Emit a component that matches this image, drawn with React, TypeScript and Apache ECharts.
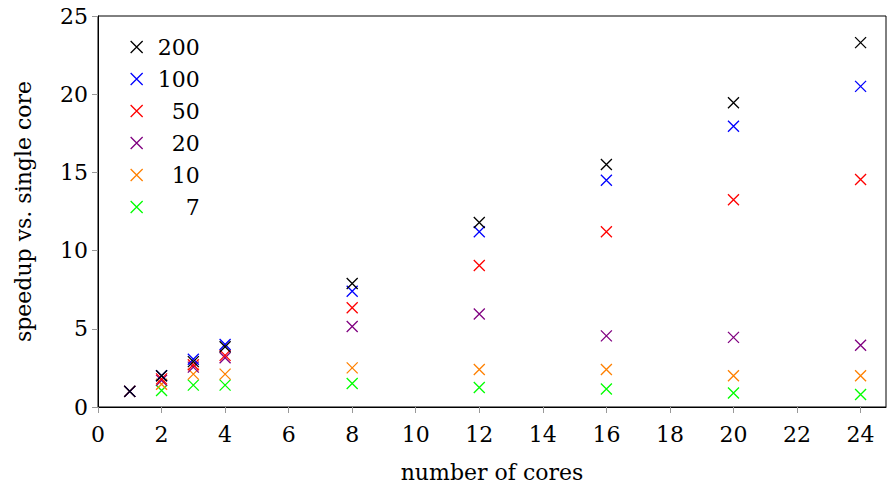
import React, { useEffect, useRef } from "react";
import * as echarts from "echarts";

const cores = [1, 2, 3, 4, 8, 12, 16, 20, 24];
const seriesNames = ["200", "100", "50", "20", "10", "7"];
const s200 = [1.0, 2.0, 2.9, 3.85, 7.9, 11.8, 15.5, 19.45, 23.3];
const s100 = [1.0, 2.0, 3.05, 4.0, 7.4, 11.2, 14.5, 17.95, 20.5];
const s50 = [1.0, 1.8, 2.7, 3.3, 6.35, 9.05, 11.2, 13.25, 14.55];
const s20 = [1.0, 1.7, 2.55, 3.15, 5.15, 5.95, 4.55, 4.45, 3.95];
const s10 = [1.0, 1.45, 2.1, 2.1, 2.5, 2.4, 2.4, 2.0, 2.0];
const s7 = [1.0, 1.05, 1.4, 1.4, 1.5, 1.25, 1.15, 0.9, 0.8];
const xTicks = [0, 2, 4, 6, 8, 10, 12, 14, 16, 18, 20, 22, 24];
const colors = ["#000000", "#0000ff", "#ff0000", "#800080", "#ff8000", "#00ff00"];

const cross = "path://M0,0L10,10M10,0L0,10";
const font = "DejaVu Serif";

export default function App() {
  const ref = useRef<HTMLDivElement>(null);
  useEffect(() => {
    if (!ref.current) return;
    const chart = echarts.init(ref.current, null, { renderer: "svg" });
    const values = [s200, s100, s50, s20, s10, s7];
    const series = seriesNames.map((name, i) => ({
      name,
      type: "scatter",
      symbol: cross,
      symbolSize: 11,
      z: 10 - i,
      itemStyle: { color: "transparent", borderColor: colors[i], borderWidth: 1.3, opacity: 1 },
      data: cores.map((c, j) => [c, values[i][j]]),
    }));
    chart.setOption({
      animation: false,
      textStyle: { fontFamily: font },
      grid: {
        left: 98,
        right: 2,
        top: 16,
        bottom: 81,
        show: true,
        borderColor: "#000",
        borderWidth: 1,
        backgroundColor: "transparent",
      },
      legend: {
        orient: "vertical",
        left: 125,
        top: 31,
        itemGap: 10,
        itemWidth: 12,
        itemHeight: 12,
        data: seriesNames.map((n, i) => ({
          name: n,
          icon: cross,
          itemStyle: { color: "transparent", borderColor: colors[i], borderWidth: 1.3, opacity: 1 },
        })),
        formatter: (n: string) => `{a|${n}}`,
        textStyle: {
          fontFamily: font,
          rich: { a: { width: 52, align: "right", fontFamily: font, fontSize: 22, color: "#000" } },
        },
      },
      xAxis: {
        type: "value",
        min: 0,
        max: 24.8,
        name: "number of cores",
        nameLocation: "middle",
        nameGap: 54,
        nameTextStyle: { fontFamily: font, fontSize: 22, color: "#000" },
        axisLine: { show: true, onZero: false, lineStyle: { color: "#000", width: 1 } },
        axisTick: { show: true, length: 6, lineStyle: { color: "#999" }, customValues: xTicks },
        axisLabel: { fontFamily: font, fontSize: 22, color: "#000", margin: 16, customValues: xTicks },
        splitLine: { show: false },
      },
      yAxis: {
        type: "value",
        min: 0,
        max: 25,
        interval: 5,
        name: "speedup vs. single core",
        nameLocation: "middle",
        nameGap: 64,
        nameTextStyle: { fontFamily: font, fontSize: 22, color: "#000" },
        axisLine: { show: true, lineStyle: { color: "#000", width: 1 } },
        axisTick: { show: true, length: 6, lineStyle: { color: "#999" } },
        axisLabel: { fontFamily: font, fontSize: 22, color: "#000", margin: 10 },
        splitLine: { show: false },
      },
      series,
    });
    return () => chart.dispose();
  }, []);
  return <div ref={ref} style={{ width: 888, height: 488, position: "absolute", left: 0, top: 0 }} />;
}
